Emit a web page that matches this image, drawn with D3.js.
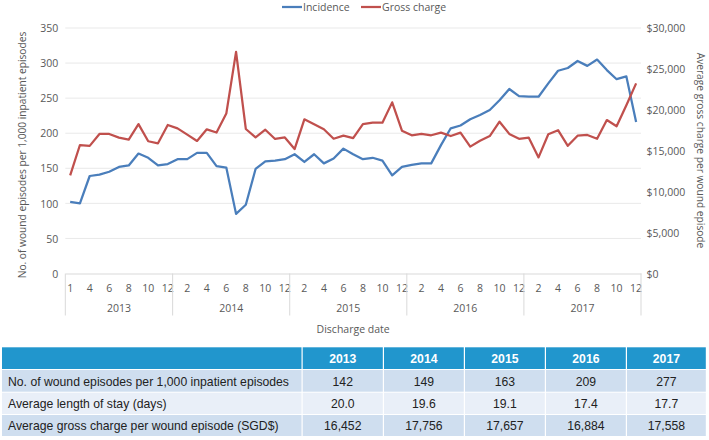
<!DOCTYPE html>
<html>
<head>
<meta charset="utf-8">
<script src="https://cdnjs.cloudflare.com/ajax/libs/d3/7.8.5/d3.min.js"></script>
<style>
  html, body { margin: 0; padding: 0; background: #ffffff; }
  svg { display: block; }
  .axis text { font-family: "Open Sans", "Noto Sans", sans-serif; fill: #595959; }
</style>
</head>
<body>
<svg id="chart" width="709" height="440"></svg>
<script>
// ---------------- DATA ----------------
const years = ["2013", "2014", "2015", "2016", "2017"];
const months2013 = [1, 3, 4, 5, 6, 7, 8, 9, 10, 11, 12];
const months2014 = [1, 2, 3, 4, 5, 6, 7, 8, 9, 10, 11, 12];
const months2015 = [1, 2, 3, 4, 5, 6, 7, 8, 9, 10, 11, 12];
const months2016 = [1, 2, 3, 4, 5, 6, 7, 8, 9, 10, 11, 12];
const months2017 = [1, 2, 3, 4, 5, 6, 7, 8, 9, 10, 11, 12];

// Incidence: wound episodes per 1,000 inpatient episodes (left axis)
const incidence = [
  102, 100, 139, 141, 145, 152, 154, 171, 165, 154, 156,
  163, 163, 172, 172, 153, 151, 85, 98, 149, 160, 161, 163,
  170, 159, 170, 157, 164, 178, 170, 163, 165, 161, 140, 152,
  155, 157, 157, 183, 207, 211, 220, 226, 233, 247, 263, 253,
  252, 252, 271, 289, 293, 303, 296, 305, 290, 277, 281, 216
];
// Average gross charge per wound episode, SGD$ (right axis)
const grossCharge = [
  12000, 15700, 15600, 17050, 17050, 16600, 16370, 18260, 16160, 15910, 18150,
  17740, 16970, 16200, 17620, 17230, 19540, 27090, 17660, 16630, 17570, 16440, 16630,
  15210, 18840, 18230, 17620, 16470, 16840, 16540, 18260, 18430, 18430, 20910, 17450,
  16890, 17060, 16890, 17210, 16800, 17210, 15500, 16230, 16800, 18550, 17060, 16460,
  16590, 14190, 17010, 17510, 15600, 16840, 16930, 16460, 18750, 18000, 20570, 23230
];

const seriesNames = ["Incidence", "Gross charge"];
const leftTicks = [0, 50, 100, 150, 200, 250, 300, 350];
const rightTicks = [0, 5000, 10000, 15000, 20000, 25000, 30000];

const tableHeader = ["", "2013", "2014", "2015", "2016", "2017"];
const rowLabels = [
  "No. of wound episodes per 1,000 inpatient episodes",
  "Average length of stay (days)",
  "Average gross charge per wound episode (SGD$)"
];
const rowIncidence = ["142", "149", "163", "209", "277"];
const rowLengthOfStay = ["20.0", "19.6", "19.1", "17.4", "17.7"];
const rowGrossCharge = ["16,452", "17,756", "17,657", "16,884", "17,558"];

// ---------------- BUILD ----------------
const monthsList = [months2013, months2014, months2015, months2016, months2017];
const cats = [];
years.forEach((y, yi) => monthsList[yi].forEach(m => cats.push({ key: y + "-" + m, year: y, month: m })));
const keys = cats.map(c => c.key);

const svg = d3.select("#chart");
const W = 709;
const plot = { left: 65.3, right: 641, top: 28, bottom: 273.5 };

const x = d3.scaleBand().domain(keys).range([plot.left, plot.right]).padding(0);
const yL = d3.scaleLinear().domain([0, 350]).range([plot.bottom, plot.top]);
const yR = d3.scaleLinear().domain([0, 30000]).range([plot.bottom, plot.top]);
const cx = k => x(k) + x.bandwidth() / 2;

const blue = "#4a7ebb";
const red = "#c0504d";
const axisGray = "#595959";
const gridColor = "#e9e9e9";
const lineGray = "#d9d9d9";

// gridlines
svg.append("g")
  .selectAll("line").data(leftTicks.filter(t => t > 0)).join("line")
  .attr("x1", plot.left).attr("x2", plot.right)
  .attr("y1", d => yL(d)).attr("y2", d => yL(d))
  .attr("stroke", gridColor).attr("stroke-width", 1);

// left axis
const gL = svg.append("g").attr("class", "axis")
  .attr("transform", `translate(${plot.left - 7},0)`)
  .call(d3.axisLeft(yL).tickValues(leftTicks).tickSize(0).tickPadding(0));
gL.select(".domain").remove();
gL.selectAll("text").attr("font-size", 10.5).attr("dy", "0.35em");

// right axis
const gR = svg.append("g").attr("class", "axis")
  .attr("transform", `translate(${plot.right + 5.5},0)`)
  .call(d3.axisRight(yR).tickValues(rightTicks).tickSize(0).tickPadding(0)
    .tickFormat(d => "$" + d3.format(",")(d)));
gR.select(".domain").remove();
gR.selectAll("text").attr("font-size", 10.5).attr("dy", "0.35em");

// x axis (months)
const gX = svg.append("g").attr("class", "axis")
  .attr("transform", `translate(0,${plot.bottom})`)
  .call(d3.axisBottom(x)
    .tickValues(keys.filter((k, i) => i % 2 === 0))
    .tickFormat(k => k.split("-")[1])
    .tickSize(0).tickPadding(11));
gX.select(".domain").attr("stroke", lineGray);
gX.selectAll("text").attr("font-size", 10.5);

// year separators and year labels
const yearBounds = years.map(y => {
  const ks = cats.filter(c => c.year === y).map(c => c.key);
  return { year: y, x0: x(ks[0]), x1: x(ks[ks.length - 1]) + x.bandwidth() };
});
const sepX = [yearBounds[0].x0].concat(yearBounds.map(b => b.x1));
svg.append("g").selectAll("line").data(sepX).join("line")
  .attr("x1", d => d).attr("x2", d => d)
  .attr("y1", plot.bottom).attr("y2", plot.bottom + 42)
  .attr("stroke", lineGray).attr("stroke-width", 1);
svg.append("g").attr("class", "axis").selectAll("text").data(yearBounds).join("text")
  .attr("x", d => (d.x0 + d.x1) / 2).attr("y", plot.bottom + 38.5)
  .attr("text-anchor", "middle").attr("font-size", 10.5)
  .text(d => d.year);

// axis titles
svg.append("text").attr("class", "axis")
  .attr("x", (plot.left + plot.right) / 2).attr("y", 333)
  .attr("text-anchor", "middle")
  .attr("font-family", "'Open Sans', sans-serif").attr("font-size", 10.5).attr("fill", axisGray)
  .text("Discharge date");
svg.append("text")
  .attr("transform", `translate(26,155) rotate(-90)`)
  .attr("text-anchor", "middle")
  .attr("font-family", "'Open Sans', sans-serif").attr("font-size", 10.2).attr("fill", axisGray)
  .text("No. of wound episodes per 1,000 inpatient episodes");
svg.append("text")
  .attr("transform", `translate(697,150.5) rotate(90)`)
  .attr("text-anchor", "middle")
  .attr("font-family", "'Open Sans', sans-serif").attr("font-size", 10.2).attr("fill", axisGray)
  .text("Average gross charge per wound episode");

// lines
const lineL = d3.line().x((d, i) => cx(keys[i])).y(d => yL(d));
const lineR = d3.line().x((d, i) => cx(keys[i])).y(d => yR(d));
svg.append("path").datum(incidence).attr("d", lineL)
  .attr("fill", "none").attr("stroke", blue).attr("stroke-width", 2.25).attr("stroke-linejoin", "round");
svg.append("path").datum(grossCharge).attr("d", lineR)
  .attr("fill", "none").attr("stroke", red).attr("stroke-width", 2.25).attr("stroke-linejoin", "round");

// legend
const legend = svg.append("g");
const legItems = [{ name: seriesNames[0], color: blue, x: 282 }, { name: seriesNames[1], color: red, x: 361 }];
legItems.forEach(it => {
  legend.append("line").attr("x1", it.x).attr("x2", it.x + 20).attr("y1", 7).attr("y2", 7)
    .attr("stroke", it.color).attr("stroke-width", 2.25);
  legend.append("text").attr("x", it.x + 21).attr("y", 7).attr("dy", "0.35em")
    .attr("font-family", "'Open Sans', sans-serif").attr("font-size", 10.5).attr("fill", axisGray)
    .text(it.name);
});

// ---------------- TABLE ----------------
const tbl = svg.append("g");
const colX = [2, 302.7, 384, 465, 546, 627, 707];
const rowY = [347.3, 370, 392.7, 415, 437];
const rowFill = ["#2196cd", "#cfdeef", "#e9eff8", "#cfdeef"];
const tableRows = [tableHeader, [rowLabels[0]].concat(rowIncidence),
  [rowLabels[1]].concat(rowLengthOfStay), [rowLabels[2]].concat(rowGrossCharge)];

tableRows.forEach((row, ri) => {
  row.forEach((cell, ci) => {
    tbl.append("rect")
      .attr("x", colX[ci]).attr("y", rowY[ri])
      .attr("width", colX[ci + 1] - colX[ci] - 1.2)
      .attr("height", rowY[ri + 1] - rowY[ri] - 1)
      .attr("fill", rowFill[ri]);
  });
});

const tFont = "'Liberation Sans', Arial, sans-serif";
// measure to mimic the condensed look
const probe = svg.append("text").attr("font-family", tFont).attr("font-size", 13).text(rowLabels[0]);
const natural = probe.node().getComputedTextLength();
probe.remove();
const sx = 281 / natural;

tableRows.forEach((row, ri) => {
  const yMid = (rowY[ri] + rowY[ri + 1] - 1) / 2;
  row.forEach((cell, ci) => {
    if (!cell) return;
    const tx = ci === 0 ? 8 : (colX[ci] + colX[ci + 1] - 1.2) / 2;
    tbl.append("text")
      .attr("transform", `translate(${tx},${yMid}) scale(${sx},1)`)
      .attr("dy", "0.36em")
      .attr("text-anchor", ci === 0 ? "start" : "middle")
      .attr("font-family", tFont)
      .attr("font-size", 13)
      .attr("font-weight", ri === 0 ? "bold" : "normal")
      .attr("fill", ri === 0 ? "#ffffff" : "#222222")
      .text(cell);
  });
});
</script>
</body>
</html>
